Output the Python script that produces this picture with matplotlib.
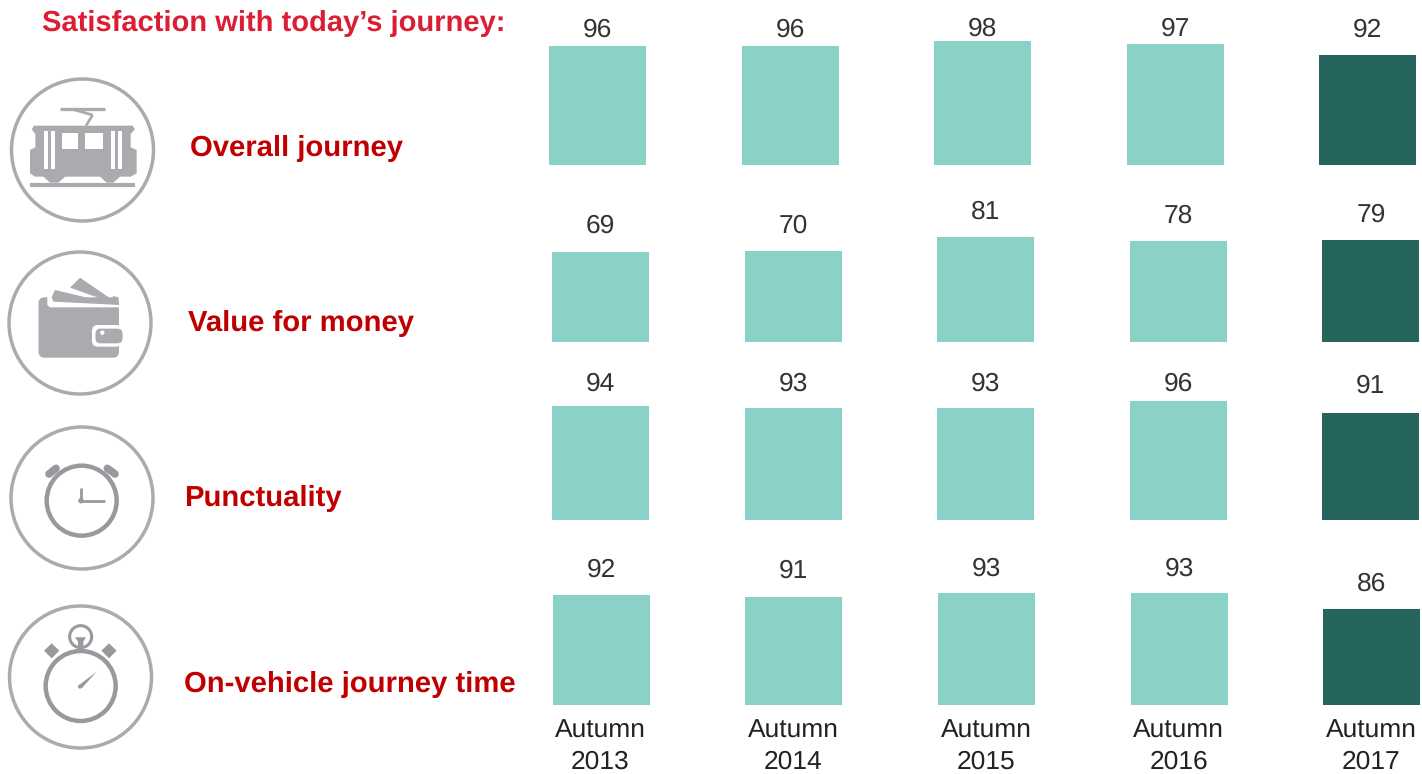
import matplotlib
matplotlib.use("Agg")
import matplotlib.pyplot as plt
from matplotlib.patches import Circle, Polygon, FancyBboxPatch
import numpy as np

plt.rcParams['font.family'] = ['Liberation Sans', 'DejaVu Sans']
plt.rcParams['text.hinting'] = 'none'

W, H = 1422, 774
GREY = '#A9ABAE'
DARK_GREY = '#97999C'
RED = '#C00000'

title = "Satisfaction with today\u2019s journey:"
measures = ["Overall journey", "Value for money", "Punctuality", "On-vehicle journey time"]
periods = ["Autumn\n2013", "Autumn\n2014", "Autumn\n2015", "Autumn\n2016", "Autumn\n2017"]

overall = [96, 96, 98, 97, 92]
value_for_money = [69, 70, 81, 78, 79]
punctuality = [94, 93, 93, 96, 91]
journey_time = [92, 91, 93, 93, 86]
rows = [overall, value_for_money, punctuality, journey_time]

# per-row layout: bar baseline (px), centre of first bar (px), value at baseline, px per unit
row_base = [165, 341.5, 520, 705]
row_x0 = [597.5, 600.5, 600.5, 601.2]
row_v0 = [44.3, 0, 44.4, 44.2]
row_scale = [2.3, 1.29, 2.3, 2.3]
# gap between bar top and value label centre (px)
label_gap = [
    [16, 16, 12, 15, 25],
    [26, 25, 25, 25, 25],
    [22, 24, 24, 17, 27],
    [25, 26, 24, 24, 25],
]
STEP = 192.6
BAR_W = 97

fig = plt.figure(figsize=(W / 100, H / 100), dpi=100)

# overlay in pixel coordinates for the text and icons
ov = fig.add_axes([0, 0, 1, 1])
ov.set_xlim(0, W)
ov.set_ylim(H, 0)
ov.axis('off')

# one axes per row of bars
for r, vals in enumerate(rows):
    base = row_base[r]
    ax = fig.add_axes([0, 1 - base / H, 1, 140 / H])
    ax.set_xlim(-row_x0[r] / STEP, (W - row_x0[r]) / STEP)
    ax.set_ylim(row_v0[r], row_v0[r] + 140 / row_scale[r])
    ax.axis('off')
    colors = ['#8AD2C8'] * 4 + ['#26645E']
    x = np.arange(len(vals))
    ax.bar(x, np.array(vals) - row_v0[r], bottom=row_v0[r], width=BAR_W / STEP, color=colors, clip_on=False)
    for i, v in enumerate(vals):
        ax.annotate(str(v), (i, v), xytext=(0, label_gap[r][i] * 0.72), textcoords='offset points',
                    ha='center', va='center', fontsize=19, color='#333333', annotation_clip=False)

# header and row names
ov.text(42, 23, title, fontsize=21, fontweight='bold', color='#DC1E35', va='center', ha='left')
name_x = [190, 188, 184, 184]
name_y = [148, 323, 498.5, 684.5]
for s, nx, ny in zip(measures, name_x, name_y):
    ov.text(nx, ny, s, fontsize=21.1, fontweight='bold', color=RED, va='center', ha='left')

# period labels under the last row
for i, s in enumerate(periods):
    a, b = s.split("\n")
    cx = 600.5 + i * 192.75
    ov.text(cx, 731, a, fontsize=19, color='#222222', ha='center', va='center')
    ov.text(cx, 762, b, fontsize=19, color='#222222', ha='center', va='center')


def ring(cx, cy, r, lw=2.5):
    ov.add_patch(Circle((cx, cy), r, fill=False, ec=GREY, lw=lw))


def poly(pts, y0, color=GREY):
    # points come in at 3x scale, with y0 as the icon's top offset
    pts = [(px / 3, y0 + py / 3) for px, py in pts]
    ov.add_patch(Polygon(pts, closed=True, fc=color, ec='none'))


def seg(p, q, y0, lw, color=GREY, cap='butt'):
    ov.plot([p[0] / 3, q[0] / 3], [y0 + p[1] / 3, y0 + q[1] / 3], color=color, lw=lw, solid_capstyle=cap)


# tram
ring(82.5, 150, 71)
y0 = 60
poly([(95, 208), (102, 197), (398, 197), (405, 208), (392, 222), (392, 262), (410, 270), (410, 340), (392, 350),
      (360, 350), (340, 368), (320, 368), (300, 350), (195, 350), (175, 368), (150, 368), (130, 350),
      (105, 350), (90, 340), (90, 270), (106, 262), (106, 222)], y0)
seg((90, 375), (405, 375), y0, 3.0)
seg((180, 148), (315, 148), y0, 2.4)
seg((225, 150), (278, 165), y0, 2.0)
seg((278, 165), (258, 197), y0, 2.0)
for a, b, c, d in [(133, 212, 145, 328), (152, 212, 165, 328), (332, 212, 344, 328), (353, 212, 365, 328),
                   (185, 218, 235, 268), (255, 218, 310, 268)]:
    poly([(a, b), (c, b), (c, d), (a, d)], y0, 'white')

# wallet
ring(80, 323, 71)
poly([(210, 683), (240, 653), (335, 718), (320, 722)], y0)
poly([(150, 722), (165, 690), (325, 728), (320, 733)], y0)
poly([(338, 708), (356, 712), (356, 722), (340, 718)], y0)
ov.add_patch(FancyBboxPatch((38.5, 60 + 712 / 3), 80.5, 181 / 3, boxstyle='round,pad=0,rounding_size=6', fc=GREY, ec='none'))
poly([(142, 700), (142, 735), (150, 742), (360, 742), (360, 735), (160, 725), (150, 700)], y0, 'white')
ov.add_patch(FancyBboxPatch((92, 60 + 795 / 3), 30, 65 / 3, boxstyle='round,pad=0,rounding_size=6', fc='white', ec='none'))
ov.add_patch(FancyBboxPatch((95.5, 60 + 806 / 3), 27, 44 / 3, boxstyle='round,pad=0,rounding_size=5', fc=GREY, ec='none'))
ov.add_patch(Circle((102.3, 60 + 818 / 3), 2.2, fc='white', ec='none'))

# alarm clock
y0 = 410
ring(82, 498, 71)
ov.add_patch(Circle((245 / 3, y0 + 272 / 3), 35, fill=False, ec=DARK_GREY, lw=3.2))
seg((147, 192), (168, 175), y0, 5.5, DARK_GREY, 'round')
seg((322, 175), (345, 192), y0, 5.5, DARK_GREY, 'round')
seg((243, 235), (243, 272), y0, 2.0, DARK_GREY)
seg((243, 272), (315, 272), y0, 2.0, DARK_GREY)
ov.add_patch(Circle((243 / 3, y0 + 272 / 3), 2.8, fc=DARK_GREY, ec='none'))

# stopwatch
ring(80.5, 677, 71)
ov.add_patch(Circle((242 / 3, y0 + 828 / 3), 35, fill=False, ec=DARK_GREY, lw=3.2))
ov.add_patch(Circle((242 / 3, y0 + 680 / 3), 11, fill=False, ec=DARK_GREY, lw=2.2))
poly([(225, 682), (258, 682), (250, 695), (250, 722), (234, 722), (234, 695)], y0, DARK_GREY)
for cx in (155, 327):
    poly([(cx, 700), (cx + 23, 722), (cx, 745), (cx - 23, 722)], y0, DARK_GREY)
poly([(236, 826), (290, 785), (246, 834)], y0, DARK_GREY)
ov.add_patch(Circle((240 / 3, y0 + 830 / 3), 2.0, fc=DARK_GREY, ec='none'))

fig.savefig('out.png', dpi=100)
